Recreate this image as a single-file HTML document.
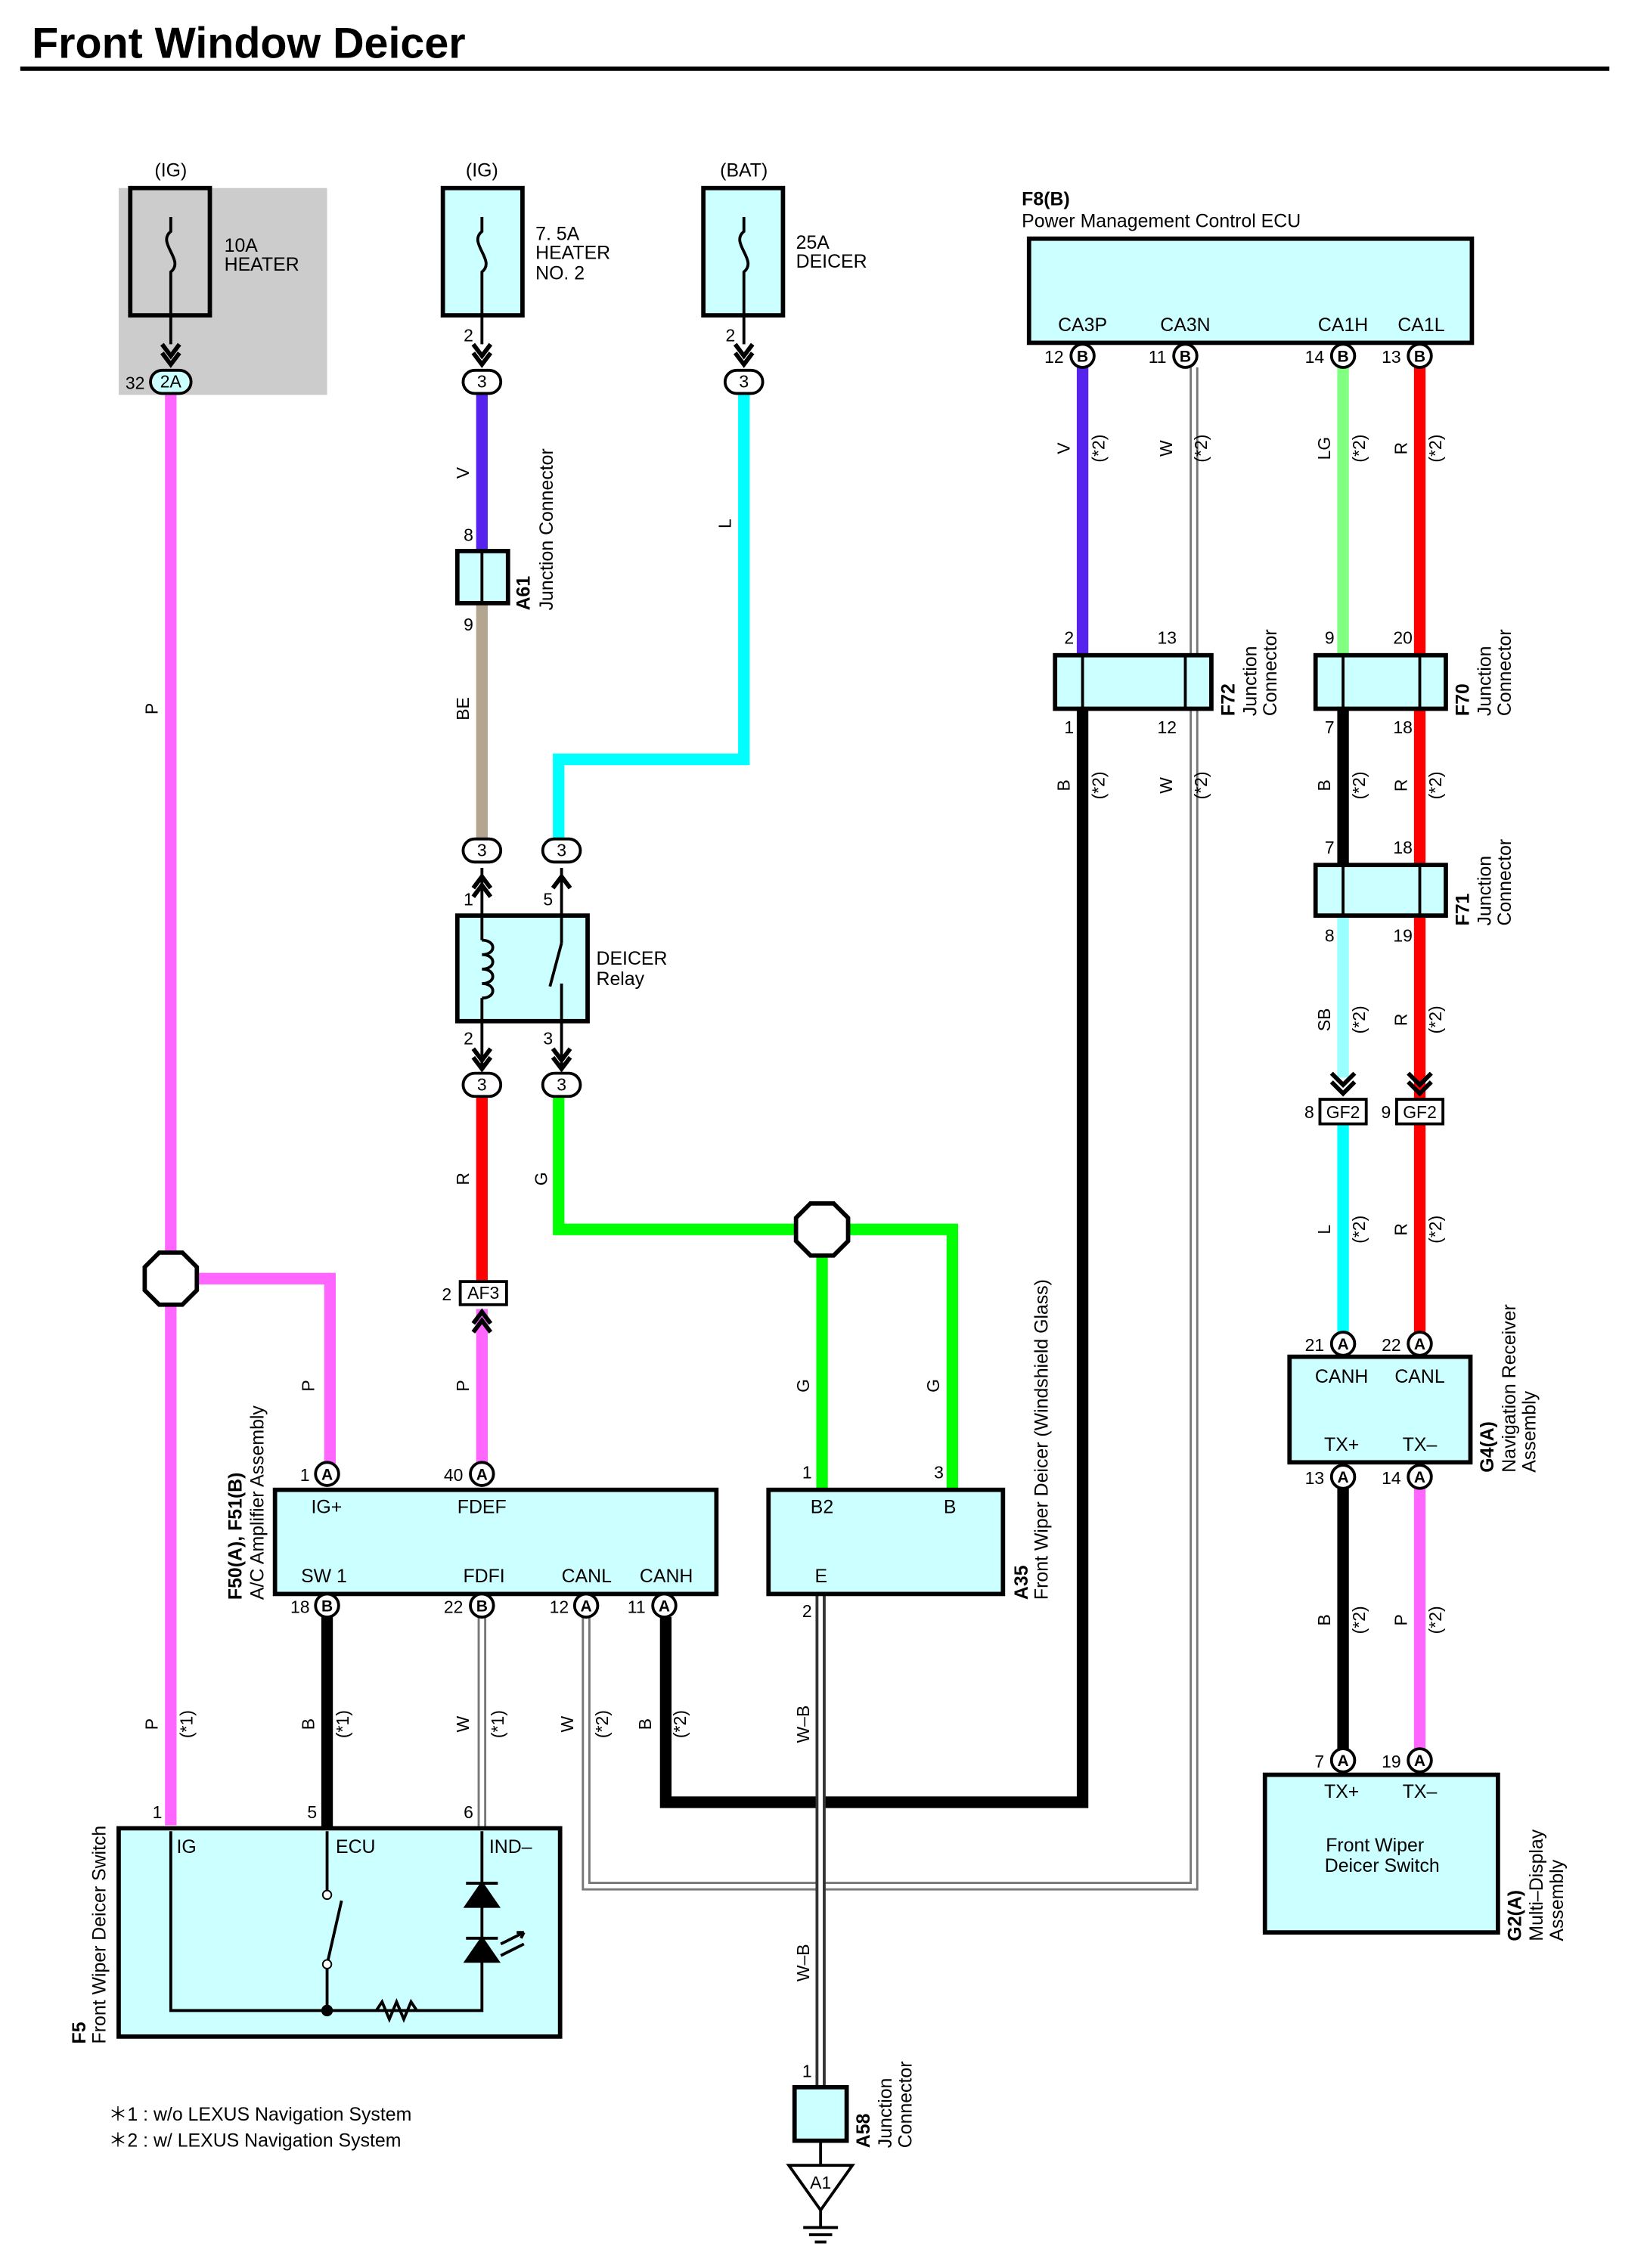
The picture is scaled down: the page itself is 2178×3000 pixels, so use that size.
<!DOCTYPE html>
<html><head><meta charset="utf-8"><style>
html,body{margin:0;padding:0;background:#fff}
svg{display:block}
text{font-family:"Liberation Sans",sans-serif;fill:#000}
</style></head><body>
<svg width="2178" height="3000" viewBox="0 0 1138 1568" preserveAspectRatio="none" xmlns="http://www.w3.org/2000/svg">
<defs>
<g id="ca"><circle r="8" fill="#fff" stroke="#000" stroke-width="2"/></g>
</defs>
<text x="22" y="40" font-size="30" font-weight="bold">Front Window Deicer</text>
<rect x="14" y="46" width="1098" height="3" fill="#000"/>

<rect x="82" y="130" width="144" height="143" fill="#ccc"/>
<g fill="none" stroke="#000">
<rect x="90" y="130" width="55" height="88" stroke-width="3"/>
<rect x="306" y="130" width="55" height="88" stroke-width="3" fill="#ccffff"/>
<rect x="486" y="130" width="55" height="88" stroke-width="3" fill="#ccffff"/>
</g>
<g fill="none" stroke="#000" stroke-width="2">
<path d="M118 150 v10 c-10 8 10 20 0 28 v20 M118 208 v30"/>
<path d="M333 150 v10 c-10 8 10 20 0 28 v20 M333 208 v30"/>
<path d="M514 150 v10 c-10 8 10 20 0 28 v20 M514 208 v30"/>
</g>
<text x="118" y="122" font-size="13" text-anchor="middle">(IG)</text>
<text x="333" y="122" font-size="13" text-anchor="middle">(IG)</text>
<text x="514" y="122" font-size="13" text-anchor="middle">(BAT)</text>
<text x="155" y="174" font-size="13">10A</text><text x="155" y="187" font-size="13">HEATER</text>
<text x="370" y="166" font-size="13">7. 5A</text><text x="370" y="179" font-size="13">HEATER</text><text x="370" y="193" font-size="13">NO. 2</text>
<text x="550" y="172" font-size="13">25A</text><text x="550" y="185" font-size="13">DEICER</text>

<g fill="none" stroke-width="8" stroke-linejoin="miter">
<path d="M118 272 V1262" stroke="#ff66ff"/>
<path d="M118 884 H228 V1012" stroke="#ff66ff"/>
<path d="M333 272 V382" stroke="#5522ee"/>
<path d="M333 417 V580" stroke="#b3a590"/>
<path d="M514 272 V525 H386 V580" stroke="#00ffff"/>
<path d="M333 758 V885" stroke="#ff0000"/>
<path d="M333 905 V1012" stroke="#ff66ff"/>
<path d="M386 758 V850 H658 V1030" stroke="#00ff00"/>
<path d="M568 850 V1030" stroke="#00ff00"/>
<path d="M226 1118 V1264" stroke="#000"/>
<path d="M460 1118 V1246 H748 V490" stroke="#000"/>
<path d="M748 254 V453" stroke="#5522ee"/>
<path d="M928 254 V453" stroke="#80ff80"/>
<path d="M981 254 V760" stroke="#ff0000"/>
<path d="M928 490 V598" stroke="#000"/>
<path d="M928 633 V745" stroke="#99ffff"/>
<path d="M928 778 V922" stroke="#00ffff"/>
<path d="M981 778 V922" stroke="#ff0000"/>
<path d="M928 1029 V1210" stroke="#000"/>
<path d="M981 1029 V1210" stroke="#ff66ff"/>
</g>
<g fill="none">
<path d="M333 1118 V1264" stroke="#777" stroke-width="6"/><path d="M333 1118 V1264" stroke="#fff" stroke-width="3"/>
<path d="M405 1118 V1304 H825 V254" stroke="#777" stroke-width="6"/><path d="M405 1118 V1304 H825 V254" stroke="#fff" stroke-width="3"/>
<path d="M567 1102 V1443" stroke="#333" stroke-width="7"/><path d="M567 1102 V1443" stroke="#fff" stroke-width="3"/>
<path d="M567 1480 V1497" stroke="#000" stroke-width="2"/>
</g>

<g fill="#fff" stroke="#000" stroke-width="3">
<polygon points="110,866 126,866 136,876 136,892 126,902 110,902 100,892 100,876"/>
<polygon points="560,832 576,832 586,842 586,858 576,868 560,868 550,858 550,842"/>
</g>

<rect x="316" y="381" width="35" height="36" fill="#ccffff" stroke="#000" stroke-width="3"/>
<line x1="333" y1="381" x2="333" y2="417" stroke="#000" stroke-width="2"/>
<rect x="316" y="633" width="90" height="73" fill="#ccffff" stroke="#000" stroke-width="3"/>
<g fill="none" stroke="#000" stroke-width="2">
<path d="M333 600 V650 M333 690 V740 M388 600 V652 M388 680 V740 M388 652 l-8 30"/>
<path d="M333 650 c10 0 10 10 0 10 c10 0 10 10 0 10 c10 0 10 10 0 10 c10 0 10 10 0 10"/>
</g>
<text x="412" y="667" font-size="13">DEICER</text><text x="412" y="681" font-size="13">Relay</text>

<g fill="none" stroke="#000" stroke-width="3">
<path d="M112 238 l6 8 l6 -8 M112 244 l6 8 l6 -8"/>
<path d="M327 238 l6 8 l6 -8 M327 244 l6 8 l6 -8"/>
<path d="M508 238 l6 8 l6 -8 M508 244 l6 8 l6 -8"/>
<path d="M327 614 l6 -8 l6 8 M327 620 l6 -8 l6 8"/>
<path d="M382 614 l6 -8 l6 8"/>
<path d="M327 725 l6 8 l6 -8 M327 731 l6 8 l6 -8"/>
<path d="M382 725 l6 8 l6 -8 M382 731 l6 8 l6 -8"/>
<path d="M327 915 l6 -8 l6 8 M327 921 l6 -8 l6 8"/>
<path d="M920 742 l8 8 l8 -8 M920 748 l8 8 l8 -8"/>
<path d="M973 742 l8 8 l8 -8 M973 748 l8 8 l8 -8"/>
</g>

<g font-size="12" text-anchor="middle">
<rect x="104" y="256" width="28" height="16" rx="8" fill="#ccffff" stroke="#000" stroke-width="2"/><text x="118" y="268">2A</text>
<rect x="320" y="256" width="26" height="16" rx="8" fill="#fff" stroke="#000" stroke-width="2"/><text x="333" y="268">3</text>
<rect x="501" y="256" width="26" height="16" rx="8" fill="#fff" stroke="#000" stroke-width="2"/><text x="514" y="268">3</text>
<rect x="320" y="580" width="26" height="16" rx="8" fill="#fff" stroke="#000" stroke-width="2"/><text x="333" y="592">3</text>
<rect x="375" y="580" width="26" height="16" rx="8" fill="#fff" stroke="#000" stroke-width="2"/><text x="388" y="592">3</text>
<rect x="320" y="742" width="26" height="16" rx="8" fill="#fff" stroke="#000" stroke-width="2"/><text x="333" y="754">3</text>
<rect x="375" y="742" width="26" height="16" rx="8" fill="#fff" stroke="#000" stroke-width="2"/><text x="388" y="754">3</text>
<rect x="318" y="886" width="32" height="16" fill="#fff" stroke="#000" stroke-width="2"/><text x="334" y="898">AF3</text>
<rect x="912" y="760" width="32" height="17" fill="#fff" stroke="#000" stroke-width="2"/><text x="928" y="773">GF2</text>
<rect x="965" y="760" width="32" height="17" fill="#fff" stroke="#000" stroke-width="2"/><text x="981" y="773">GF2</text>
</g>
<g font-size="12" text-anchor="end">
<text x="100" y="269">32</text><text x="327" y="236">2</text><text x="508" y="236">2</text>
<text x="327" y="374">8</text><text x="327" y="436">9</text>
<text x="327" y="626">1</text><text x="382" y="626">5</text><text x="327" y="722">2</text><text x="382" y="722">3</text>
<text x="312" y="899">2</text><text x="908" y="773">8</text><text x="961" y="773">9</text>
</g>

<rect x="190" y="1030" width="305" height="72" fill="#ccffff" stroke="#000" stroke-width="3"/>
<g font-size="13"><text x="215" y="1046">IG+</text><text x="316" y="1046">FDEF</text>
<text x="208" y="1094">SW 1</text><text x="320" y="1094">FDFI</text><text x="388" y="1094">CANL</text><text x="442" y="1094">CANH</text></g>
<rect x="531" y="1030" width="162" height="72" fill="#ccffff" stroke="#000" stroke-width="3"/>
<g font-size="13"><text x="560" y="1046">B2</text><text x="652" y="1046">B</text><text x="563" y="1094">E</text></g>
<rect x="82" y="1264" width="305" height="144" fill="#ccffff" stroke="#000" stroke-width="3"/>
<g font-size="13"><text x="122" y="1281">IG</text><text x="232" y="1281">ECU</text><text x="338" y="1281">IND–</text></g>
<g fill="none" stroke="#000" stroke-width="2">
<path d="M118 1266 V1390 H333 V1266 M226 1266 V1310 M226 1358 V1390 M226 1358 l10 -44 M260 1390 l4 -6 l5 12 l5 -12 l5 12 l5 -12 l4 6"/>
</g>
<circle cx="226" cy="1310" r="3" fill="#fff" stroke="#000"/><circle cx="226" cy="1358" r="3" fill="#fff" stroke="#000"/>
<circle cx="226" cy="1390" r="4" fill="#000"/>
<g fill="#000" stroke="#000" stroke-width="2"><path d="M322 1318 h22 l-11 -16 z M322 1302 h22"/><path d="M322 1356 h22 l-11 -16 z M322 1340 h22"/></g>
<path d="M346 1344 l16 -8 m0 0 l-5 0 m5 0 l-2 4 M346 1352 l16 -8" stroke="#000" stroke-width="2" fill="none"/>

<rect x="549" y="1443" width="36" height="37" fill="#ccffff" stroke="#000" stroke-width="3"/>
<polygon points="545,1497 589,1497 567,1528" fill="#fff" stroke="#000" stroke-width="2"/>
<text x="567" y="1513" font-size="12" text-anchor="middle">A1</text>
<g stroke="#000" stroke-width="2"><line x1="567" y1="1528" x2="567" y2="1540"/><line x1="555" y1="1540" x2="579" y2="1540"/><line x1="559" y1="1545" x2="575" y2="1545"/><line x1="563" y1="1550" x2="571" y2="1550"/></g>

<rect x="711" y="165" width="306" height="72" fill="#ccffff" stroke="#000" stroke-width="3"/>
<text x="706" y="142" font-size="13" font-weight="bold">F8(B)</text>
<text x="706" y="157" font-size="13">Power Management Control ECU</text>
<g font-size="13" text-anchor="middle"><text x="748" y="229">CA3P</text><text x="819" y="229">CA3N</text><text x="928" y="229">CA1H</text><text x="982" y="229">CA1L</text></g>
<g fill="#ccffff" stroke="#000" stroke-width="3">
<rect x="729" y="453" width="108" height="37"/><rect x="909" y="453" width="90" height="37"/><rect x="909" y="598" width="90" height="35"/>
</g>
<g stroke="#000" stroke-width="2"><line x1="748" y1="453" x2="748" y2="490"/><line x1="819" y1="453" x2="819" y2="490"/>
<line x1="928" y1="453" x2="928" y2="490"/><line x1="981" y1="453" x2="981" y2="490"/><line x1="928" y1="598" x2="928" y2="633"/><line x1="981" y1="598" x2="981" y2="633"/></g>
<g font-size="12" text-anchor="end">
<text x="742" y="445">2</text><text x="813" y="445">13</text><text x="742" y="507">1</text><text x="813" y="507">12</text>
<text x="922" y="445">9</text><text x="976" y="445">20</text><text x="922" y="507">7</text><text x="976" y="507">18</text>
<text x="922" y="590">7</text><text x="976" y="590">18</text><text x="922" y="651">8</text><text x="976" y="651">19</text>
</g>
<rect x="891" y="938" width="125" height="73" fill="#ccffff" stroke="#000" stroke-width="3"/>
<g font-size="13" text-anchor="middle"><text x="927" y="956">CANH</text><text x="981" y="956">CANL</text><text x="927" y="1003">TX+</text><text x="981" y="1003">TX–</text></g>
<rect x="874" y="1227" width="161" height="109" fill="#ccffff" stroke="#000" stroke-width="3"/>
<g font-size="13" text-anchor="middle"><text x="927" y="1243">TX+</text><text x="981" y="1243">TX–</text><text x="950" y="1280">Front Wiper</text><text x="955" y="1294">Deicer Switch</text></g>

<g font-size="11" text-anchor="middle" font-weight="bold">
<g transform="translate(226,1019)"><use href="#ca"/><text y="4">A</text></g>
<g transform="translate(333,1019)"><use href="#ca"/><text y="4">A</text></g>
<g transform="translate(226,1110)"><use href="#ca"/><text y="4">B</text></g>
<g transform="translate(333,1110)"><use href="#ca"/><text y="4">B</text></g>
<g transform="translate(405,1110)"><use href="#ca"/><text y="4">A</text></g>
<g transform="translate(459,1110)"><use href="#ca"/><text y="4">A</text></g>
<g transform="translate(748,246)"><use href="#ca"/><text y="4">B</text></g>
<g transform="translate(819,246)"><use href="#ca"/><text y="4">B</text></g>
<g transform="translate(928,246)"><use href="#ca"/><text y="4">B</text></g>
<g transform="translate(981,246)"><use href="#ca"/><text y="4">B</text></g>
<g transform="translate(928,929)"><use href="#ca"/><text y="4">A</text></g>
<g transform="translate(981,929)"><use href="#ca"/><text y="4">A</text></g>
<g transform="translate(928,1021)"><use href="#ca"/><text y="4">A</text></g>
<g transform="translate(981,1021)"><use href="#ca"/><text y="4">A</text></g>
<g transform="translate(928,1217)"><use href="#ca"/><text y="4">A</text></g>
<g transform="translate(981,1217)"><use href="#ca"/><text y="4">A</text></g>
</g>
<g font-size="12" text-anchor="end">
<text x="214" y="1024">1</text><text x="320" y="1024">40</text><text x="214" y="1115">18</text><text x="320" y="1115">22</text>
<text x="393" y="1115">12</text><text x="446" y="1115">11</text>
<text x="561" y="1022">1</text><text x="652" y="1022">3</text><text x="561" y="1118">2</text>
<text x="112" y="1257">1</text><text x="219" y="1257">5</text><text x="327" y="1257">6</text>
<text x="561" y="1436">1</text>
<text x="735" y="251">12</text><text x="806" y="251">11</text><text x="915" y="251">14</text><text x="968" y="251">13</text>
<text x="915" y="934">21</text><text x="968" y="934">22</text><text x="915" y="1026">13</text><text x="968" y="1026">14</text>
<text x="915" y="1222">7</text><text x="968" y="1222">19</text>
</g>

<g font-size="12" text-anchor="middle">
<text transform="translate(109,490) rotate(-90)">P</text>
<text transform="translate(324,327) rotate(-90)">V</text>
<text transform="translate(324,490) rotate(-90)">BE</text>
<text transform="translate(505,362) rotate(-90)">L</text>
<text transform="translate(324,815) rotate(-90)">R</text>
<text transform="translate(378,815) rotate(-90)">G</text>
<text transform="translate(217,958) rotate(-90)">P</text>
<text transform="translate(324,958) rotate(-90)">P</text>
<text transform="translate(559,958) rotate(-90)">G</text>
<text transform="translate(649,958) rotate(-90)">G</text>
<text transform="translate(109,1192) rotate(-90)">P</text><text transform="translate(133,1192) rotate(-90)">(*1)</text>
<text transform="translate(217,1192) rotate(-90)">B</text><text transform="translate(241,1192) rotate(-90)">(*1)</text>
<text transform="translate(324,1192) rotate(-90)">W</text><text transform="translate(348,1192) rotate(-90)">(*1)</text>
<text transform="translate(396,1192) rotate(-90)">W</text><text transform="translate(420,1192) rotate(-90)">(*2)</text>
<text transform="translate(450,1192) rotate(-90)">B</text><text transform="translate(474,1192) rotate(-90)">(*2)</text>
<text transform="translate(559,1192) rotate(-90)">W–B</text>
<text transform="translate(559,1357) rotate(-90)">W–B</text>
<text transform="translate(739,310) rotate(-90)">V</text><text transform="translate(763,310) rotate(-90)">(*2)</text>
<text transform="translate(810,310) rotate(-90)">W</text><text transform="translate(834,310) rotate(-90)">(*2)</text>
<text transform="translate(919,310) rotate(-90)">LG</text><text transform="translate(943,310) rotate(-90)">(*2)</text>
<text transform="translate(972,310) rotate(-90)">R</text><text transform="translate(996,310) rotate(-90)">(*2)</text>
<text transform="translate(739,543) rotate(-90)">B</text><text transform="translate(763,543) rotate(-90)">(*2)</text>
<text transform="translate(810,543) rotate(-90)">W</text><text transform="translate(834,543) rotate(-90)">(*2)</text>
<text transform="translate(919,543) rotate(-90)">B</text><text transform="translate(943,543) rotate(-90)">(*2)</text>
<text transform="translate(972,543) rotate(-90)">R</text><text transform="translate(996,543) rotate(-90)">(*2)</text>
<text transform="translate(919,705) rotate(-90)">SB</text><text transform="translate(943,705) rotate(-90)">(*2)</text>
<text transform="translate(972,705) rotate(-90)">R</text><text transform="translate(996,705) rotate(-90)">(*2)</text>
<text transform="translate(919,850) rotate(-90)">L</text><text transform="translate(943,850) rotate(-90)">(*2)</text>
<text transform="translate(972,850) rotate(-90)">R</text><text transform="translate(996,850) rotate(-90)">(*2)</text>
<text transform="translate(919,1120) rotate(-90)">B</text><text transform="translate(943,1120) rotate(-90)">(*2)</text>
<text transform="translate(972,1120) rotate(-90)">P</text><text transform="translate(996,1120) rotate(-90)">(*2)</text>
</g>
<g font-size="13">
<text transform="translate(366,422) rotate(-90)" font-weight="bold">A61</text>
<text transform="translate(382,422) rotate(-90)">Junction Connector</text>
<text transform="translate(853,495) rotate(-90)" font-weight="bold">F72</text>
<text transform="translate(868,495) rotate(-90)">Junction</text><text transform="translate(882,495) rotate(-90)">Connector</text>
<text transform="translate(1015,495) rotate(-90)" font-weight="bold">F70</text>
<text transform="translate(1030,495) rotate(-90)">Junction</text><text transform="translate(1044,495) rotate(-90)">Connector</text>
<text transform="translate(1015,640) rotate(-90)" font-weight="bold">F71</text>
<text transform="translate(1030,640) rotate(-90)">Junction</text><text transform="translate(1044,640) rotate(-90)">Connector</text>
<text transform="translate(1032,1018) rotate(-90)" font-weight="bold">G4(A)</text>
<text transform="translate(1047,1018) rotate(-90)">Navigation Receiver</text><text transform="translate(1061,1018) rotate(-90)">Assembly</text>
<text transform="translate(1051,1342) rotate(-90)" font-weight="bold">G2(A)</text>
<text transform="translate(1066,1342) rotate(-90)">Multi–Display</text><text transform="translate(1080,1342) rotate(-90)">Assembly</text>
<text transform="translate(167,1106) rotate(-90)" font-weight="bold">F50(A), F51(B)</text>
<text transform="translate(182,1106) rotate(-90)">A/C Amplifier Assembly</text>
<text transform="translate(710,1106) rotate(-90)" font-weight="bold">A35</text>
<text transform="translate(724,1106) rotate(-90)">Front Wiper Deicer (Windshield Glass)</text>
<text transform="translate(59,1413) rotate(-90)" font-weight="bold">F5</text>
<text transform="translate(73,1413) rotate(-90)">Front Wiper Deicer Switch</text>
<text transform="translate(601,1485) rotate(-90)" font-weight="bold">A58</text>
<text transform="translate(616,1485) rotate(-90)">Junction</text><text transform="translate(630,1485) rotate(-90)">Connector</text>
</g>
<g font-size="13"><text x="75" y="1466">＊1 : w/o LEXUS Navigation System</text><text x="75" y="1484">＊2 : w/ LEXUS Navigation System</text></g>
</svg>
</body></html>
